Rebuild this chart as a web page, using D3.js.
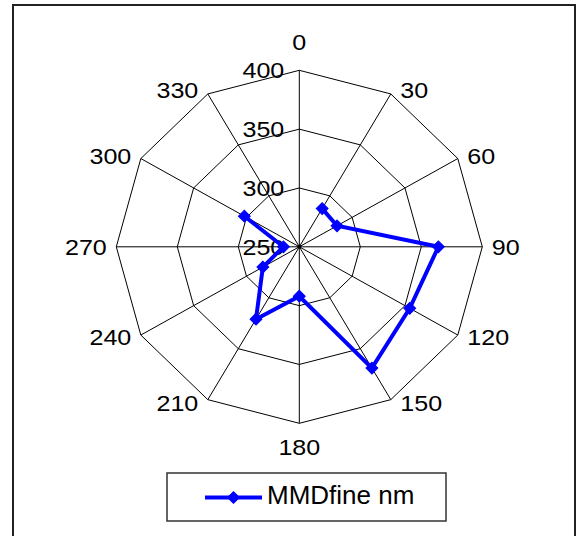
<!DOCTYPE html>
<html>
<head>
<meta charset="utf-8">
<script src="https://cdn.jsdelivr.net/npm/d3@7"></script>
<style>
  html, body { margin: 0; padding: 0; background: #fff; }
  svg { display: block; }
  text { font-family: "Liberation Sans", Arial, sans-serif; fill: #000; }
</style>
</head>
<body>
<svg id="chart" width="579" height="536"></svg>
<script>
// Wind-direction sectors (degrees) and MMD of the fine mode per sector
const directions = [0, 30, 60, 90, 120, 150, 180, 210, 240, 270, 300, 330];
const mmdFine = [null, 287.5, 285.7, 364, 354.5, 369, 292, 321, 284.5, 263, 302, null];
const radialTicks = [250, 300, 350, 400];
const seriesName = "MMDfine nm";

const svg = d3.select("#chart");
const W = 579, H = 536;
const cx = 299.3, cy = 246.8;
const rx = 183, ry = 176.5;

// Outer frame
svg.append("rect")
  .attr("x", 13).attr("y", 5).attr("width", 562).attr("height", 545)
  .attr("fill", "#fff").attr("stroke", "#222").attr("stroke-width", 2);

const rX = d3.scaleLinear().domain([250, 400]).range([0, rx]);
const rY = d3.scaleLinear().domain([250, 400]).range([0, ry]);
const angle = d3.scaleLinear().domain([0, 360]).range([0, 2 * Math.PI]);

const px = (deg, v) => cx + Math.sin(angle(deg)) * rX(v);
const py = (deg, v) => cy - Math.cos(angle(deg)) * rY(v);

const g = svg.append("g");

// Polygon gridlines
radialTicks.filter(t => t > 250).forEach(t => {
  const pts = directions.map(d => [px(d, t), py(d, t)]);
  g.append("path")
    .attr("d", d3.line()(pts) + "Z")
    .attr("fill", "none").attr("stroke", "#000").attr("stroke-width", 1);
});

// Spokes
directions.forEach(d => {
  g.append("line")
    .attr("x1", cx).attr("y1", cy)
    .attr("x2", px(d, 400)).attr("y2", py(d, 400))
    .attr("stroke", "#000").attr("stroke-width", 1);
});
g.append("circle").attr("cx", cx).attr("cy", cy).attr("r", 2).attr("fill", "#000");

const FS = 22;       // axis label font size
const SX = 1.14;     // horizontal stretch of axis labels
const capShift = 0.358 * FS;

function stretchedText(x, y, str, anchor) {
  return g.append("text")
    .attr("transform", `translate(${x},${y}) scale(${SX},1)`)
    .attr("text-anchor", anchor)
    .attr("font-size", FS)
    .text(str);
}

// Radial tick labels along the 0° spoke
radialTicks.forEach(t => {
  stretchedText(cx - 15, py(0, t) + capShift, String(t), "end");
});

// Category labels around the outside
directions.forEach(d => {
  const a = angle(d);
  const s = Math.sin(a), c = Math.cos(a);
  const vx = px(d, 400), vy = py(d, 400);
  const t = stretchedText(0, 0, String(d), "middle");
  const w = t.node().getComputedTextLength() * SX;
  let dx = 0, dy;
  if (Math.abs(s) > 0.01) {
    dx = Math.sign(s) * (w / 2 + 9.5);
    dy = -c * 4;
  } else {
    dy = -c * 25.9 - 2.4;
  }
  t.attr("transform", `translate(${vx + dx},${vy + dy + capShift}) scale(${SX},1)`);
});

// Data series
const pts = directions.map((d, i) => ({ d, v: mmdFine[i] }));
const line = d3.line()
  .defined(p => p.v != null)
  .x(p => px(p.d, p.v))
  .y(p => py(p.d, p.v));

g.append("path")
  .attr("d", line(pts))
  .attr("fill", "none").attr("stroke", "#0000ff")
  .attr("stroke-width", 4).attr("stroke-linejoin", "miter");

const diamond = d3.symbol().type(d3.symbolSquare).size(70);
g.selectAll(".marker")
  .data(pts.filter(p => p.v != null))
  .join("path")
  .attr("class", "marker")
  .attr("d", diamond)
  .attr("transform", p => `translate(${px(p.d, p.v)},${py(p.d, p.v)}) rotate(45)`)
  .attr("fill", "#0000ff").attr("stroke", "#0000ff").attr("stroke-width", 1);

// Legend
const lg = svg.append("g");
lg.append("rect")
  .attr("x", 167).attr("y", 473).attr("width", 279).attr("height", 48)
  .attr("fill", "#fff").attr("stroke", "#333").attr("stroke-width", 1.5);
lg.append("line")
  .attr("x1", 205).attr("x2", 262).attr("y1", 497.5).attr("y2", 497.5)
  .attr("stroke", "#0000ff").attr("stroke-width", 4);
lg.append("path")
  .attr("d", diamond)
  .attr("transform", "translate(233.5,497.5) rotate(45)")
  .attr("fill", "#0000ff").attr("stroke", "#0000ff").attr("stroke-width", 1);
lg.append("text")
  .attr("x", 267).attr("y", 503.5)
  .attr("font-size", 26)
  .text(seriesName);
</script>
</body>
</html>
